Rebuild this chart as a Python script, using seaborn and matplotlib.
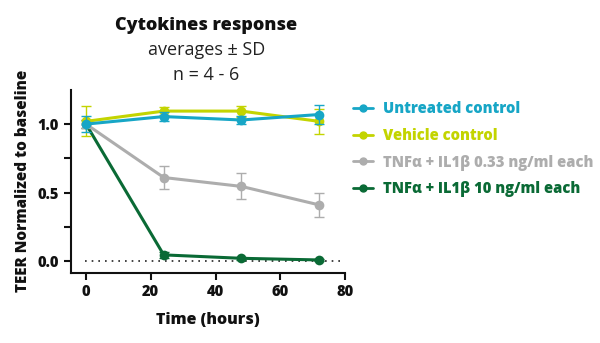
import matplotlib
matplotlib.use("Agg")
import matplotlib.pyplot as plt
import seaborn as sns
import pandas as pd
import numpy as np

time_h = [0, 24, 48, 72]
series = ["Untreated control", "Vehicle control",
          "TNFα + IL1β 0.33 ng/ml each", "TNFα + IL1β 10 ng/ml each"]
untreated_mean = [1.00, 1.055, 1.03, 1.07]
untreated_sd = [0.06, 0.03, 0.03, 0.07]
vehicle_mean = [1.02, 1.095, 1.095, 1.02]
vehicle_sd = [0.11, 0.03, 0.04, 0.09]
low_mean = [1.00, 0.61, 0.545, 0.41]
low_sd = [0.03, 0.085, 0.095, 0.088]
high_mean = [1.00, 0.045, 0.02, 0.008]
high_sd = [0.03, 0.02, 0.01, 0.01]
colors = ["#17A6C6", "#C3D400", "#ADADAD", "#0A6A35"]

means = [untreated_mean, vehicle_mean, low_mean, high_mean]
sds = [untreated_sd, vehicle_sd, low_sd, high_sd]

df = pd.DataFrame({
    "time": np.tile(time_h, 4),
    "value": np.concatenate(means),
    "sd": np.concatenate(sds),
    "group": np.repeat(series, 4),
})

sns.set_style("ticks")
plt.rcParams["font.family"] = ["Open Sans", "DejaVu Sans"]

HW = 800

fig = plt.figure(figsize=(6, 3.43), dpi=100)
ax = fig.add_axes([0.118, 0.205, 0.457, 0.533])

ax.axhline(0, xmin=0.05, xmax=1.0, color="#222222", ls=(0, (1, 3)), lw=1.2, zorder=1)

for i in reversed(range(4)):
    name = series[i]
    sub = df[df["group"] == name]
    ax.errorbar(sub["time"], sub["value"], yerr=sub["sd"], fmt="none",
                ecolor=colors[i], elinewidth=1.0, capsize=3.5, capthick=1.0,
                zorder=2 + (3 - i))
    sns.lineplot(data=sub, x="time", y="value", ax=ax, color=colors[i],
                 marker="o", markersize=7, markeredgewidth=0, lw=2.2,
                 label=name, zorder=3 + (3 - i), legend=False)

ax.set_xlim(-4.7, 80)
ax.set_ylim(-0.085, 1.25)
ax.set_xticks([0, 20, 40, 60, 80])
ax.set_yticks([0.0, 0.5, 1.0])
ax.set_yticks([0.25, 0.75], minor=True)
ax.set_yticklabels(["0.0", "0.5", "1.0"])
for s in ["top", "right"]:
    ax.spines[s].set_visible(False)
for s in ["left", "bottom"]:
    ax.spines[s].set_linewidth(1.5)
    ax.spines[s].set_color("#111111")
ax.tick_params(axis="both", which="both", width=1.5, length=5, labelsize=10.5,
               color="#111111", labelcolor="#111111")
for lab in ax.get_xticklabels() + ax.get_yticklabels():
    lab.set_fontweight(HW)

ax.set_xlabel("Time (hours)", fontsize=11.5, fontweight=HW, labelpad=8, color="#111111")
ax.set_ylabel("TEER Normalized to baseline", fontsize=11, fontweight=HW, labelpad=5,
              color="#111111")

fig.text(0.344, 0.925, "Cytokines response", ha="center", va="center",
         fontsize=13, fontweight=HW, color="#111111")
fig.text(0.344, 0.853, "averages ± SD", ha="center", va="center", fontsize=13,
         fontweight=400, color="#222222")
fig.text(0.344, 0.782, "n = 4 - 6", ha="center", va="center", fontsize=13,
         fontweight=400, color="#222222")

handles = [plt.Line2D([0], [0], color=c, marker="o", markersize=5, lw=2) for c in colors]
leg = fig.legend(handles, series, loc="upper left", bbox_to_anchor=(0.567, 0.743),
                 frameon=False, handlelength=1.3, handletextpad=0.7,
                 labelspacing=0.72, prop={"weight": HW, "size": 10.6})
for t, c in zip(leg.get_texts(), colors):
    t.set_color(c)

fig.savefig("out.png", dpi=100)
